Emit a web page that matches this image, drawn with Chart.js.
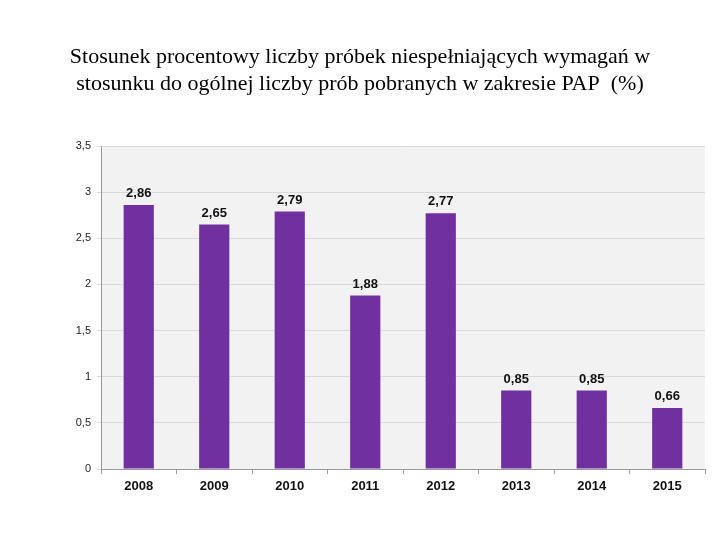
<!DOCTYPE html>
<html>
<head>
<meta charset="utf-8">
<script src="https://cdn.jsdelivr.net/npm/chart.js@4/dist/chart.umd.min.js"></script>
<style>
  html, body { margin: 0; padding: 0; background: #fff; }
  #wrap { width: 720px; height: 540px; }
</style>
</head>
<body>
<div id="wrap"><canvas id="myChart" width="720" height="540"></canvas></div>
<script>
// Dane
const lata = ["2008", "2009", "2010", "2011", "2012", "2013", "2014", "2015"];
const procent = [2.86, 2.65, 2.79, 1.88, 2.77, 0.85, 0.85, 0.66];
const tytul = [
  "Stosunek procentowy liczby próbek niespełniających wymagań w",
  "stosunku do ogólnej liczby prób pobranych w zakresie PAP  (%)"
];

const przecinek = (v, d) => v.toFixed(d).replace(".", ",");

// Tło obszaru wykresu
const tloPlugin = {
  id: "tlo",
  beforeDraw(chart) {
    const { ctx, chartArea: a } = chart;
    ctx.save();
    ctx.fillStyle = "#f2f2f2";
    ctx.fillRect(a.left, a.top, a.right - a.left, a.bottom - a.top);
    ctx.restore();
  }
};

// Tytuł wyśrodkowany na całej szerokości strony
const tytulPlugin = {
  id: "tytul",
  afterDraw(chart) {
    const { ctx } = chart;
    ctx.save();
    ctx.font = "22px 'Liberation Serif', 'Times New Roman', serif";
    ctx.fillStyle = "#000";
    ctx.textAlign = "center";
    ctx.textBaseline = "middle";
    tytul.forEach((linia, i) => ctx.fillText(linia, 360, 57 + i * 27));
    ctx.restore();
  }
};

// Etykiety wartości nad słupkami
const etykietyPlugin = {
  id: "etykiety",
  afterDatasetsDraw(chart) {
    const { ctx } = chart;
    const meta = chart.getDatasetMeta(0);
    ctx.save();
    ctx.font = "bold 13px 'Liberation Sans', Arial, sans-serif";
    ctx.fillStyle = "#111";
    ctx.textAlign = "center";
    ctx.textBaseline = "bottom";
    meta.data.forEach((bar, i) => {
      ctx.fillText(przecinek(procent[i], 2), bar.x, bar.y - 5);
    });
    ctx.restore();
  }
};

new Chart(document.getElementById("myChart"), {
  type: "bar",
  data: {
    labels: lata,
    datasets: [{
      data: procent,
      backgroundColor: "#7030a0",
      barPercentage: 0.4,
      categoryPercentage: 1.0
    }]
  },
  options: {
    responsive: false,
    animation: false,
    layout: { padding: { top: 146, left: 0, right: 15, bottom: 31 } },
    plugins: {
      legend: { display: false },
      tooltip: { enabled: false },
      title: { display: false }
    },
    scales: {
      x: {
        afterFit(scale) { scale.height = 40; },
        grid: { offset: true, drawOnChartArea: false, tickLength: 5, color: "#999" },
        border: { color: "#999" },
        ticks: {
          color: "#111",
          padding: 5,
          font: { family: "'Liberation Sans', Arial, sans-serif", size: 13, weight: "bold" }
        }
      },
      y: {
        min: 0,
        max: 3.5,
        afterFit(scale) { scale.width = 101; },
        grid: { color: "#d9d9d9", tickLength: 4 },
        border: { color: "#999" },
        ticks: {
          stepSize: 0.5,
          color: "#222",
          padding: 6,
          font: { family: "'Liberation Sans', Arial, sans-serif", size: 11 },
          callback: (v) => (v % 1 === 0 ? String(v) : przecinek(v, 1))
        }
      }
    }
  },
  plugins: [tloPlugin, etykietyPlugin, tytulPlugin]
});
</script>
</body>
</html>
